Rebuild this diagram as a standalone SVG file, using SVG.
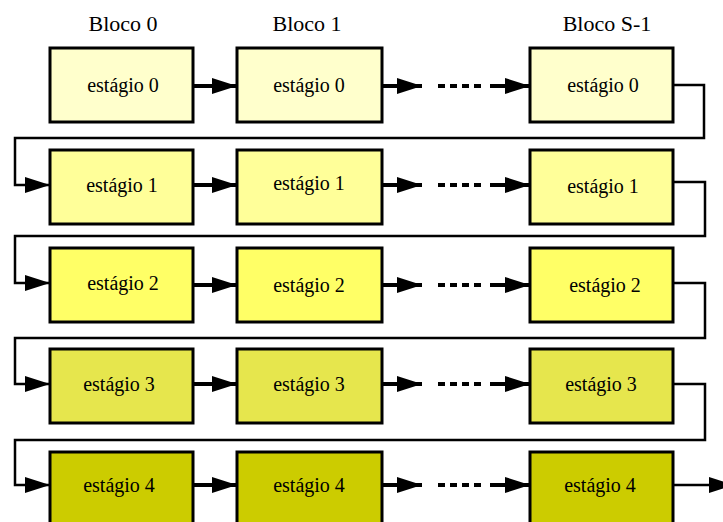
<svg xmlns="http://www.w3.org/2000/svg" width="723" height="522" viewBox="0 0 723 522">
<style>
.box{stroke:#000;stroke-width:3}
.r0{fill:#FFFFCC}.r1{fill:#FFFF99}.r2{fill:#FFFF66}.r3{fill:#E6E64D}.r4{fill:#CCCC00}
.t{font-family:"Liberation Serif","Times New Roman",serif;font-size:20px;fill:#000;text-anchor:middle}
.h{font-family:"Liberation Serif","Times New Roman",serif;font-size:22px;fill:#000;text-anchor:middle}
.a{stroke:#000;stroke-width:4;fill:none;marker-end:url(#ah)}
.d{stroke:#000;stroke-width:4;fill:none;stroke-dasharray:7 5}
.l{stroke:#000;stroke-width:2.5;fill:none;marker-end:url(#ah)}
</style>
<defs>
<marker id="ah" markerUnits="userSpaceOnUse" markerWidth="25" markerHeight="16" refX="25" refY="8" orient="auto" viewBox="0 0 25 16">
<path d="M0,0 L25,8 L0,16 Z" fill="#000"/>
</marker>
</defs>
<rect width="723" height="522" fill="#fff"/>
<g id="headers">
<text class="h" x="123" y="31">Bloco 0</text>
<text class="h" x="307" y="31">Bloco 1</text>
<text class="h" x="607" y="31">Bloco S-1</text>
</g>
<g id="connectors">
<path class="a" d="M193,86 H237"/>
<path class="a" d="M382,86 H422"/>
<path class="d" d="M438,86 H482"/>
<path class="a" d="M490,86 H530"/>
<path class="l" d="M673,85 H704 V138 H15 V185 H50"/>
<path class="a" d="M193,185 H237"/>
<path class="a" d="M382,185 H422"/>
<path class="d" d="M438,185 H482"/>
<path class="a" d="M490,185 H530"/>
<path class="l" d="M673,182 H705 V236 H15 V283 H50"/>
<path class="a" d="M193,285 H237"/>
<path class="a" d="M382,285 H422"/>
<path class="d" d="M438,285 H482"/>
<path class="a" d="M490,285 H530"/>
<path class="l" d="M673,283 H705 V338 H15 V384 H50"/>
<path class="a" d="M193,384 H237"/>
<path class="a" d="M382,384 H422"/>
<path class="d" d="M438,384 H482"/>
<path class="a" d="M490,384 H530"/>
<path class="l" d="M673,384 H705 V440 H15 V485 H50"/>
<path class="a" d="M193,485 H237"/>
<path class="a" d="M382,485 H422"/>
<path class="d" d="M438,485 H482"/>
<path class="a" d="M490,485 H530"/>
<path class="l" d="M673,485 H734"/>
</g>
<g id="b0s0"><rect class="box r0" x="50" y="48" width="143" height="74"/><text class="t" x="123" y="92">estágio 0</text></g>
<g id="b1s0"><rect class="box r0" x="237" y="48" width="145" height="74"/><text class="t" x="309" y="92">estágio 0</text></g>
<g id="bSs0"><rect class="box r0" x="530" y="48" width="143" height="74"/><text class="t" x="603" y="92">estágio 0</text></g>
<g id="b0s1"><rect class="box r1" x="50" y="150" width="143" height="74"/><text class="t" x="122" y="192">estágio 1</text></g>
<g id="b1s1"><rect class="box r1" x="237" y="150" width="145" height="74"/><text class="t" x="309" y="190">estágio 1</text></g>
<g id="bSs1"><rect class="box r1" x="530" y="150" width="143" height="74"/><text class="t" x="603" y="193">estágio 1</text></g>
<g id="b0s2"><rect class="box r2" x="50" y="248" width="143" height="74"/><text class="t" x="123" y="290">estágio 2</text></g>
<g id="b1s2"><rect class="box r2" x="237" y="248" width="145" height="74"/><text class="t" x="309" y="292">estágio 2</text></g>
<g id="bSs2"><rect class="box r2" x="530" y="248" width="143" height="74"/><text class="t" x="605" y="292">estágio 2</text></g>
<g id="b0s3"><rect class="box r3" x="50" y="349" width="143" height="74"/><text class="t" x="119" y="391">estágio 3</text></g>
<g id="b1s3"><rect class="box r3" x="237" y="349" width="145" height="74"/><text class="t" x="309" y="391">estágio 3</text></g>
<g id="bSs3"><rect class="box r3" x="530" y="349" width="143" height="74"/><text class="t" x="601" y="391">estágio 3</text></g>
<g id="b0s4"><rect class="box r4" x="50" y="452" width="143" height="74"/><text class="t" x="119" y="492">estágio 4</text></g>
<g id="b1s4"><rect class="box r4" x="237" y="452" width="145" height="74"/><text class="t" x="309" y="492">estágio 4</text></g>
<g id="bSs4"><rect class="box r4" x="530" y="452" width="143" height="74"/><text class="t" x="600" y="492">estágio 4</text></g>
</svg>
